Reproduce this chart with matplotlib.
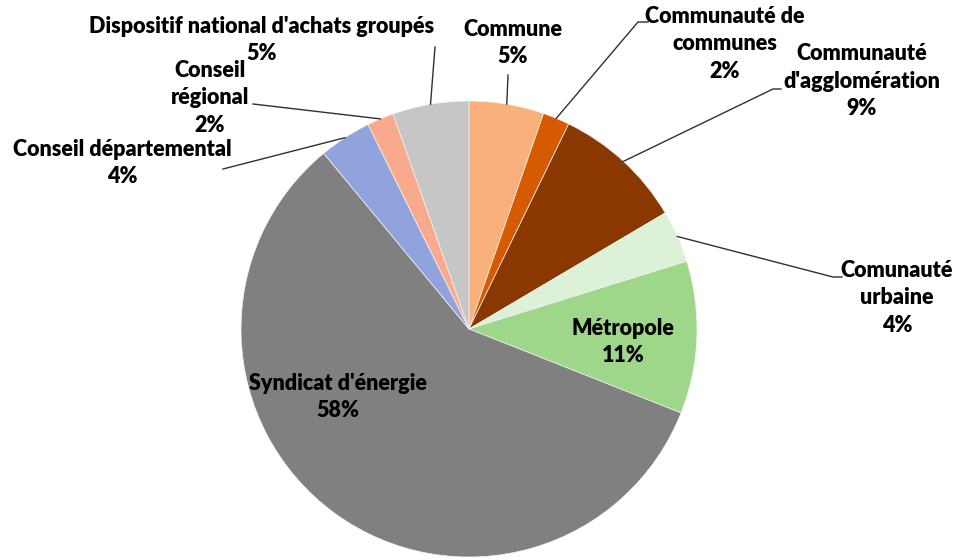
import numpy as np
import matplotlib
matplotlib.use("Agg")
from matplotlib import pyplot as plt

# slice data, clockwise from the top
labels = ["Commune", "Communauté de\ncommunes", "Communauté\nd'agglomération",
          "Comunauté\nurbaine", "Métropole", "Syndicat d'énergie",
          "Conseil départemental", "Conseil\nrégional",
          "Dispositif national d'achats groupés"]
values = [5.3, 1.9, 9.3, 3.7, 10.8, 58.0, 3.7, 1.9, 5.4]
colors = ["#F9B07A", "#D65A00", "#8B3700", "#DDF0D8", "#9ED68A",
          "#808080", "#91A3DC", "#F9A98C", "#C6C6C6"]

W, H = 957, 560
cx, cy, r = 469, 329, 228  # pie centre / radius in pixels (y down)

# label placement in pixels (y down): text centre, elbow of leader line (None = inside)
text_pos = [(513, 43), (725, 44), (862, 81), (897, 298), (623, 342),
            (338, 397), (122, 163), (210, 98), (262, 40)]
elbows = [[(508, 75)], [(638, 22), (648, 22)], [(773, 89), (781, 89)],
          [(833, 277), (842, 277)], None, None, [(223, 169)],
          [(253, 104)], [(435, 47)]]

plt.rcParams['font.family'] = ['Lato', 'DejaVu Sans']

fig = plt.figure(figsize=(W / 100, H / 100), dpi=100)
ax = fig.add_axes([0, 0, 1, 1])

wedges, _ = ax.pie(values, colors=colors, startangle=90, counterclock=False,
                   center=(cx, H - cy), radius=r, frame=True,
                   wedgeprops=dict(edgecolor="#f4f4f4", linewidth=0.5))
ax.set_xlim(0, W)
ax.set_ylim(0, H)
ax.set_aspect("equal")
ax.axis("off")

for w, lab, v, tp, el in zip(wedges, labels, values, text_pos, elbows):
    txt = "{}\n{:.0f}%".format(lab, v)
    ax.text(tp[0], H - tp[1], txt, ha="center", va="center", fontsize=15.5,
            fontweight="heavy", color="black", linespacing=1.36)
    if el is not None:
        mid = np.deg2rad((w.theta1 + w.theta2) / 2)
        pts = [(cx + r * np.cos(mid), H - cy + r * np.sin(mid))]
        pts += [(x, H - y) for x, y in el]
        xs, ys = zip(*pts)
        ax.plot(xs, ys, color="#303030", lw=1.0)

plt.savefig("out.png", dpi=100)
